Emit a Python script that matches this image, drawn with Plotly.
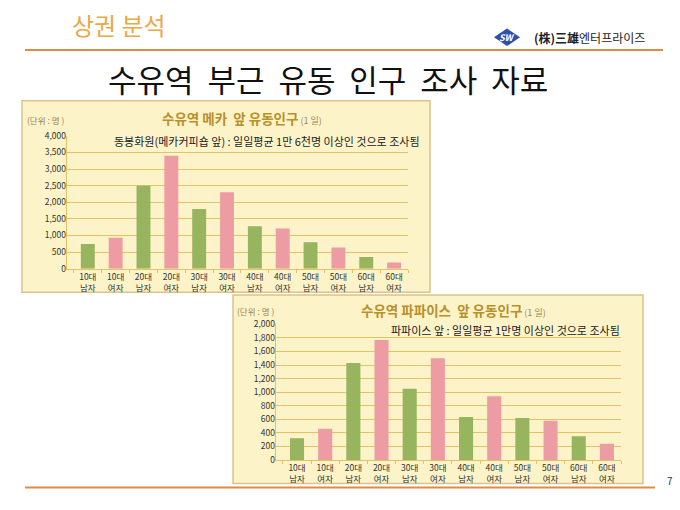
"""수유역 유동인구 슬라이드 재현 (Plotly)."""

import plotly.graph_objects as go

W, H = 680, 510

# 데이터
AGES = ["10대", "20대", "30대", "40대", "50대", "60대"]
GENDERS = ["남자", "여자"]
MECCA = [740, 930, 2500, 3400, 1800, 2300, 1280, 1210, 800, 640, 350, 190]
PAPAIS = [320, 460, 1430, 1770, 1050, 1500, 635, 940, 620, 580, 350, 240]
MECCA_TICKS = [0, 500, 1000, 1500, 2000, 2500, 3000, 3500, 4000]
PAPAIS_TICKS = [0, 200, 400, 600, 800, 1000, 1200, 1400, 1600, 1800, 2000]

CATS = [f"{a}<br>{g}" for a in AGES for g in GENDERS]

GREEN = "#97b45f"
PINK = "#ee9ca4"
GOLD = "#e2c262"
BG = "#fcf3c8"
BORDER = "#d8c48c"
FONT = "Noto Sans CJK KR"
BAR_COLS = [GREEN if g == "남자" else PINK for a in AGES for g in GENDERS]


def px(x):
    return x / W


def py(y):
    return 1 - y / H


fig = go.Figure()

for vals, xa, ya, ylab in [(MECCA, "x", "y", "y3"), (PAPAIS, "x2", "y2", "y4")]:
    fig.add_trace(go.Bar(x=CATS, y=vals, marker=dict(color=BAR_COLS, line=dict(width=0)),
                         xaxis=xa, yaxis=ya, showlegend=False))
    # 눈금 라벨용 보조 축에 보이지 않는 점
    fig.add_trace(go.Scatter(x=[CATS[0]], y=[0], xaxis=xa, yaxis=ylab, mode="markers",
                             marker=dict(opacity=0), hoverinfo="skip", showlegend=False))

tickfont = dict(family=FONT, size=8.5, color="#333333")
xcommon = dict(type="category", tickfont=tickfont, showline=True, linecolor=GOLD,
               linewidth=1, ticks="outside", tickson="boundaries", ticklen=3,
               tickcolor=GOLD, showgrid=False, fixedrange=True)


def ygrid(ticks):
    # 본 축: 격자선 (맨 위 눈금 제외)
    return dict(range=[0, ticks[-1]], tickvals=ticks[:-1], showticklabels=False,
                showgrid=True, gridcolor=GOLD, gridwidth=1, showline=True,
                linecolor=GOLD, linewidth=1, zeroline=False, ticks="", fixedrange=True)


def ylabels(ticks, over, anchor):
    return dict(range=[0, ticks[-1]], tickvals=ticks, ticktext=[f"{v:,}" for v in ticks],
                tickfont=tickfont, overlaying=over, anchor=anchor, side="left",
                showgrid=False, showline=False, zeroline=False, ticks="", fixedrange=True)


fig.update_layout(
    width=W, height=H,
    margin=dict(l=0, r=0, t=0, b=0),
    paper_bgcolor="white", plot_bgcolor="rgba(0,0,0,0)",
    bargap=0.5,
    xaxis=dict(domain=[px(67), px(408)], anchor="y", **xcommon),
    yaxis=dict(domain=[py(268), py(132)], anchor="x", **ygrid(MECCA_TICKS)),
    xaxis2=dict(domain=[px(276), px(621)], anchor="y2", **xcommon),
    yaxis2=dict(domain=[py(464), py(325)], anchor="x2", **ygrid(PAPAIS_TICKS)),
    yaxis3=ylabels(MECCA_TICKS, "y", "x"),
    yaxis4=ylabels(PAPAIS_TICKS, "y2", "x2"),
)

# 차트 배경 상자
for x0, y0, x1, y1 in [(22, 96, 430, 292), (233, 295, 643, 488)]:
    fig.add_shape(type="rect", xref="paper", yref="paper",
                  x0=px(x0), x1=px(x1), y0=py(y1), y1=py(y0),
                  fillcolor=BG, line=dict(color=BORDER, width=1.5), layer="below")

# 머리글 / 바닥 선
for y, x0, x1 in [(44, 25, 663), (492, 25, 655)]:
    fig.add_shape(type="line", xref="paper", yref="paper",
                  x0=px(x0), x1=px(x1), y0=py(y), y1=py(y),
                  line=dict(color="#dc8c48", width=2))

# 로고 마름모
cx, cy = 507, 31
fig.add_shape(type="path", xref="paper", yref="paper",
              path=f"M {px(cx-13)} {py(cy)} L {px(cx)} {py(cy-9)} L {px(cx+13)} {py(cy)} "
                   f"L {px(cx)} {py(cy+9)} Z",
              fillcolor="#2f4fa8", line=dict(width=0))


def note(x, y, text, size, color="#222222", xanchor="center", weight="normal"):
    fig.add_annotation(x=px(x), y=py(y), xref="paper", yref="paper", text=text,
                       showarrow=False, xanchor=xanchor, yanchor="middle", borderpad=0,
                       font=dict(family=FONT, size=size, color=color, weight=weight))


note(cx, cy, "<i>SW</i>", 9, color="white", weight="bold")
note(533, 31, "<b>(株)三雄</b><span style='font-size:12px'>엔터프라이즈</span>", 12,
     color="#222222", xanchor="left")
note(71, 18, "상권 분석", 24, color="#eba847", xanchor="left")
note(328, 73, "수유역  부근  유동  인구  조사  자료", 31, color="#111111")
note(674, 485, "7", 10, color="#333333", xanchor="right")

TITLE_COL = "#b8902c"
note(242, 114, "<b>수유역 메카 &nbsp;앞 유동인구</b>"
     "<span style='font-size:9px; color:#a08858'> (1 일)</span>", 13.5, color=TITLE_COL)
note(26, 116, "(단위 : 명 )", 8.5, color="#a08050", xanchor="left")
note(421, 137, "동봉화원(메카커피숍 앞) : 일일평균 1만 6천명 이상인 것으로 조사됨", 11,
     xanchor="right")

note(453, 310, "<b>수유역 파파이스 &nbsp;앞 유동인구</b>"
     "<span style='font-size:9px; color:#a08858'> (1 일)</span>", 13.5, color=TITLE_COL)
note(236, 311, "(단위 : 명 )", 8.5, color="#a08050", xanchor="left")
note(621, 331, "파파이스 앞 : 일일평균 1만명 이상인 것으로 조사됨", 11, xanchor="right")

# 페이지 기본 여백 제거 (그림이 창의 좌상단에 붙도록), 도구막대 숨김
fig.write_html("out.html", config={"displayModeBar": False},
               post_script="document.body.style.margin='0';")
